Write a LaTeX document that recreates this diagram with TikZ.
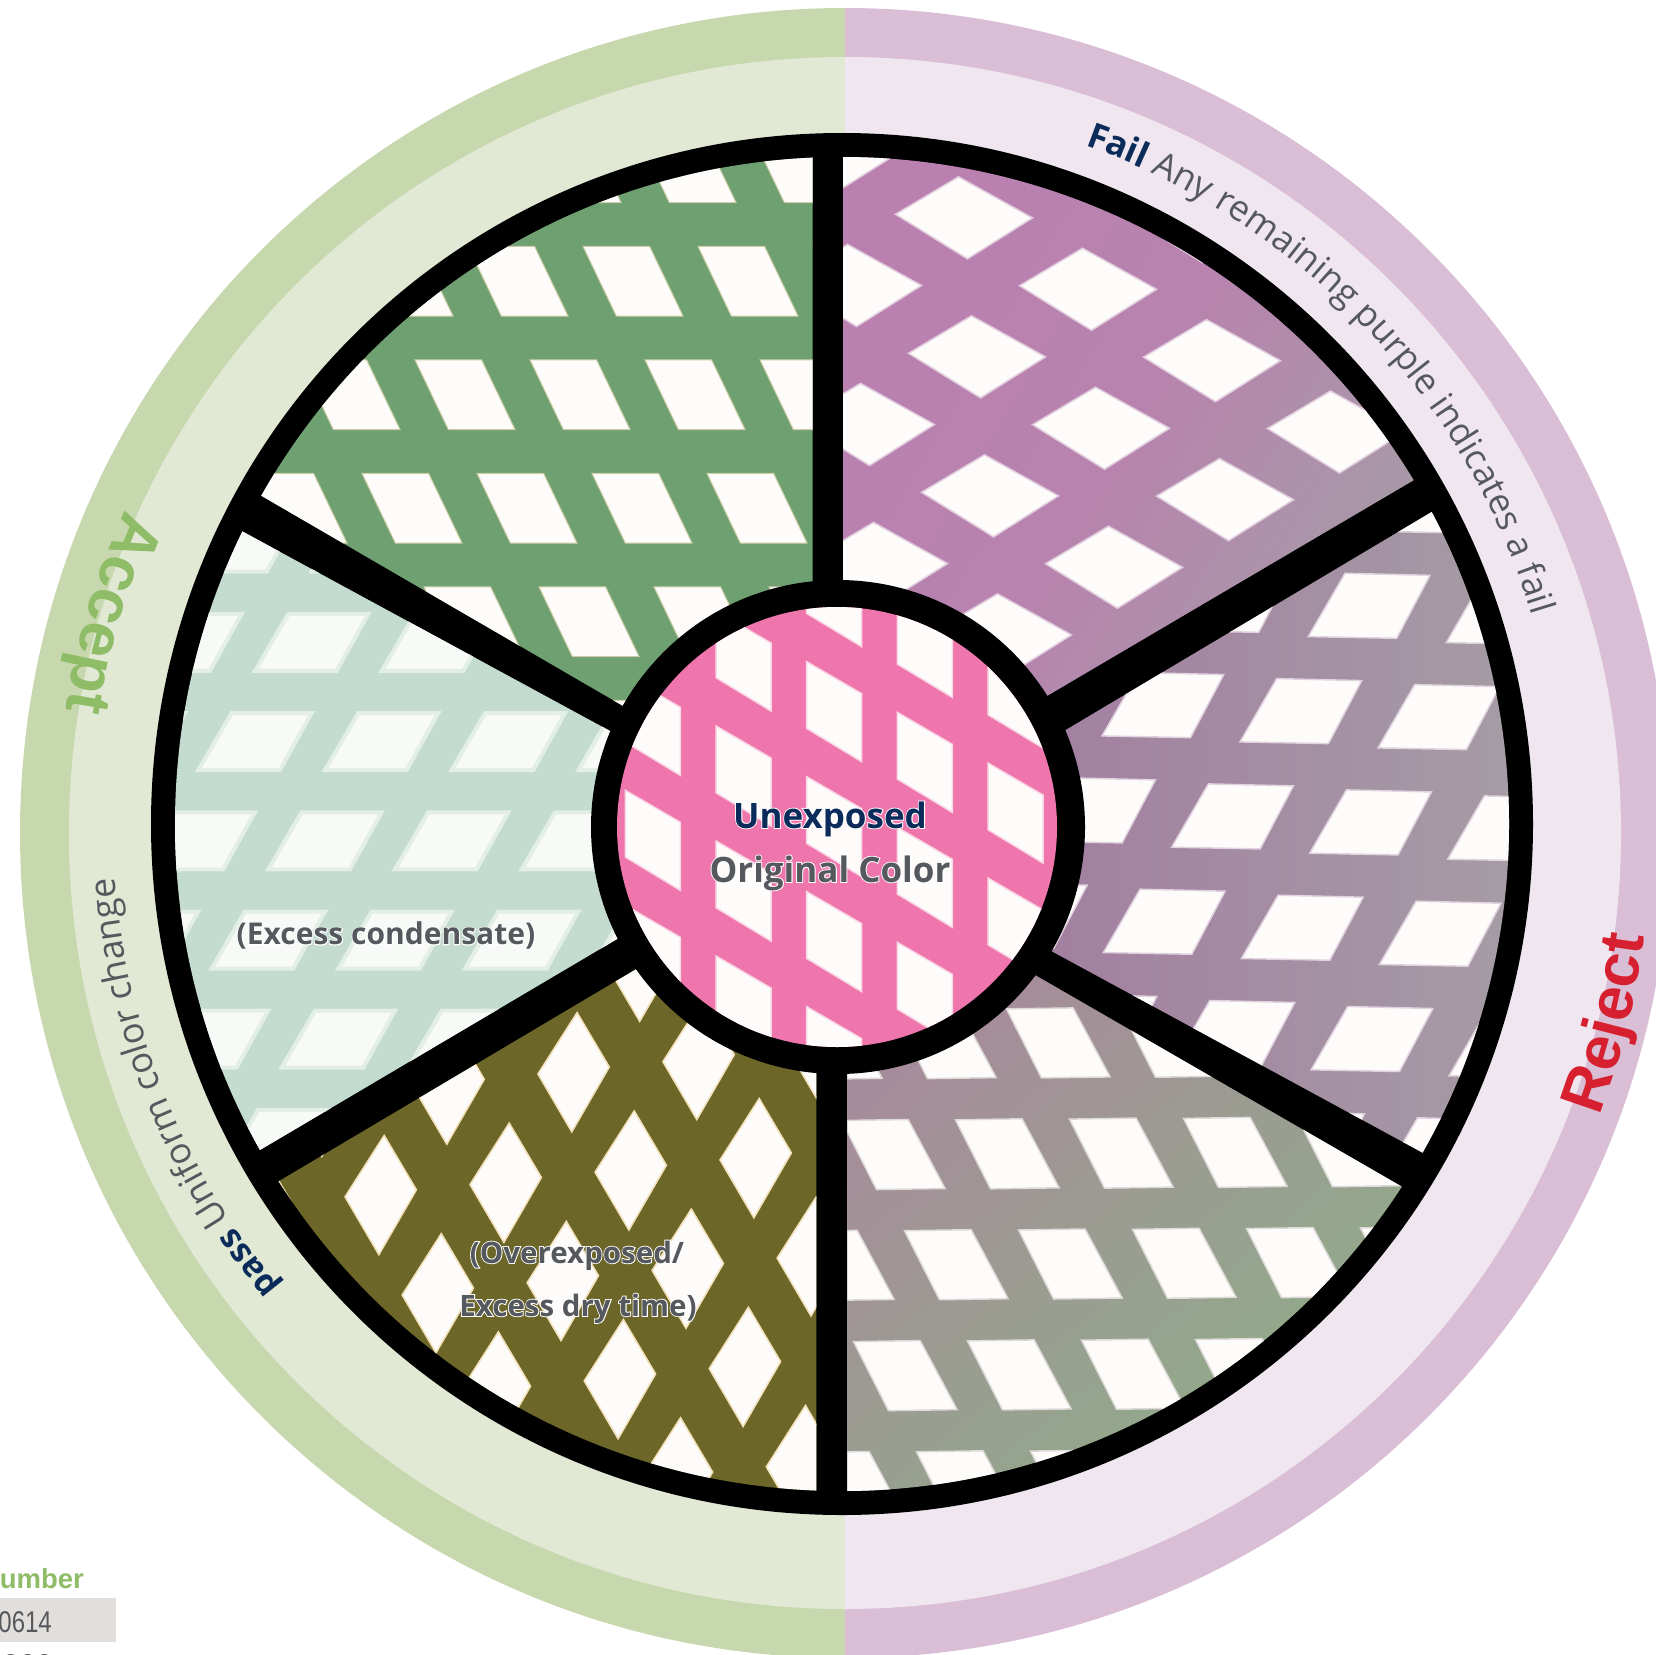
\documentclass[tikz,border=0pt]{standalone}
\usepackage{fontspec}
\setmainfont{Open Sans}
\newfontfamily\robo{Liberation Sans}
\newfontfamily\robonarrow[FakeStretch=0.8]{Liberation Sans}
\usetikzlibrary{decorations.text}
\definecolor{bandG}{HTML}{C8D8AE}
\definecolor{lightG}{HTML}{E1E9D5}
\definecolor{bandP}{HTML}{D9BED6}
\definecolor{lightP}{HTML}{F0E6F0}
\definecolor{navy}{HTML}{0B2C5A}
\definecolor{slate}{HTML}{55595E}
\definecolor{acceptG}{HTML}{8FBC67}
\definecolor{rejectR}{HTML}{D6202F}
\definecolor{paper}{HTML}{FDFCFA}
\newcommand\halo[1]{\leavevmode\rlap{\special{pdf:code q 1 Tr 1 1 1 RG 1.8 w}#1\special{pdf:code Q}}#1}
% ox oy ax ay bx by v1 v2 v3 (y values of a, b, o are screen values; vertices in picture coords)
\newcommand\lattice[9]{%
  \foreach \i in {-7,...,7}{\foreach \j in {-7,...,7}{%
    \fill[cell,shift={({#1+\i*(#3)+\j*(#5)},{-(#2+\i*(#4)+\j*(#6))})}] (0,0) -- (#7) -- (#8) -- (#9) -- cycle;
  }}}
\tikzset{cell/.style={fill=paper}}
\begin{document}
\begin{tikzpicture}[x=1pt,y=1pt]
\useasboundingbox (0,0) rectangle (1656,-1654);
% outer bands
\begin{scope}
  \clip (0,10) rectangle (845,-1700);
  \fill[bandG] (845,-833) circle[radius=825];
  \fill[lightG] (845,-833) circle[radius=776];
\end{scope}
\begin{scope}
  \clip (845,10) rectangle (1700,-1700);
  \fill[bandP] (845,-833) circle[radius=825];
  \fill[lightP] (845,-833) circle[radius=776];
\end{scope}
% black wheel
\fill[black] (842,-824) circle[radius=691];
% green sector
\begin{scope}
  \clip (842,-824) circle[radius=667];
  \clip (812.5,-816) -- (100,-402) -- (100,-100) -- (812.5,-100) -- cycle;
  \fill[fill={rgb,255:red,111;green,160;blue,114}] (100,-100) rectangle (850,-850);
  \tikzset{cell/.style={fill=paper,draw={rgb,255:red,205;green,205;blue,165},line width=1pt}}
  \lattice{583}{246.4}{115}{0}{-53}{113.5}{66.6,0}{100,-69.6}{33.3,-69.6}
\end{scope}
% purple sector
\begin{scope}
  \clip (842,-824) circle[radius=667];
  \clip (843,-816) -- (1600,-370.6) -- (1600,-100) -- (843,-100) -- cycle;
  \definecolor{pa}{RGB}{186,128,176}\definecolor{pb}{RGB}{166,155,166}
  \shade[left color=pa,right color=pb,middle color=pa!88!pb,shading angle=60] (843,-100) rectangle (1430,-720);
  \tikzset{cell/.style={fill=paper,draw={rgb,255:red,225;green,205;blue,222},line width=1.5pt}}
  \lattice{895.5}{214.3}{124}{71.4}{13}{139}{63,37.5}{137,-3.6}{72,-44.6}
\end{scope}
% right sector
\begin{scope}
  \clip (842,-824) circle[radius=667];
  \clip (864.7,-849.7) -- (1600,-411.7) -- (1600,-1249) -- cycle;
  \definecolor{ra}{RGB}{163,126,160}\definecolor{rb}{RGB}{165,158,165}
  \shade[left color=ra,right color=rb] (1030,-480) rectangle (1540,-1180);
  \tikzset{cell/.style={fill=paper,draw={rgb,255:red,225;green,210;blue,224},line width=1.5pt}}
  \lattice{1345}{573.3}{138}{6}{-68.3}{105.3}{85,-2}{51.7,-65}{-36.7,-63.3}
\end{scope}
% lower right sector
\begin{scope}
  \clip (842,-824) circle[radius=667];
  \clip (847.4,-866.7) -- (1600,-1301) -- (1600,-1600) -- (847.4,-1600) -- cycle;
  \definecolor{la}{RGB}{166,140,155}\definecolor{lb}{RGB}{142,175,135}
  \shade[left color=la,right color=lb,shading angle=40] (847,-960) rectangle (1440,-1500);
  \tikzset{cell/.style={fill=paper,draw={rgb,255:red,222;green,218;blue,216},line width=1.5pt}}
  \lattice{1006.5}{1008.9}{114}{-0.7}{-51}{110.9}{66.6,1}{103.6,-68}{35,-69}
\end{scope}
% olive sector
\begin{scope}
  \clip (842,-824) circle[radius=667];
  \clip (816.4,-862.2) -- (100,-1287.3) -- (100,-1600) -- (816.4,-1600) -- cycle;
  \fill[fill={rgb,255:red,108;green,102;blue,40}] (100,-850) rectangle (820,-1600);
  \tikzset{cell/.style={fill=paper,draw={rgb,255:red,243;green,224;blue,185},line width=1.5pt}}
  \lattice{577.1}{1012.6}{125}{-12.3}{57.1}{98.2}{32.2,-54.4}{-5.3,-119.3}{-39.2,-61.4}
\end{scope}
% pale sector
\begin{scope}
  \clip (842,-824) circle[radius=667];
  \clip (797.2,-832.6) -- (50,-427) -- (50,-1274) -- cycle;
  \fill[fill={rgb,255:red,196;green,219;blue,208}] (50,-400) rectangle (800,-1300);
  \tikzset{cell/.style={fill={rgb,255:red,247;green,250;blue,246},draw={rgb,255:red,226;green,238;blue,230},line width=4pt}}
  \lattice{288.3}{613.9}{126.7}{0}{-56.7}{99.2}{80,0}{48.3,-57}{-33.3,-57}
\end{scope}
% centre
\fill[black] (838,-827) circle[radius=247];
\begin{scope}
  \clip (837,-827) circle[radius=220];
  \fill[fill={rgb,255:red,239;green,118;blue,173}] (600,-600) rectangle (1070,-1060);
  \tikzset{cell/.style={fill=paper,draw={rgb,255:red,250;green,215;blue,228},line width=1.5pt}}
  \lattice{806.7}{661.7}{90.7}{50.7}{0}{115}{55,-32}{55,-100}{0,-66.7}
\end{scope}
% centre labels
\node[anchor=base,inner sep=0pt,text=navy] (lblUnexposed) at (830,-828) {\fontsize{35}{40}\selectfont\bfseries\halo{Unexposed}};
\node[anchor=base,inner sep=0pt,text=slate] (lblOriginal) at (830,-882) {\fontsize{35}{40}\selectfont\bfseries\halo{Original Color}};
\node[anchor=base,inner sep=0pt,text=slate] (lblCondensate) at (386,-944.5) {\fontsize{30}{36}\selectfont\bfseries\halo{(Excess condensate)}};
\node[anchor=base,inner sep=0pt,text=slate] (lblOver) at (577,-1263) {\fontsize{29.5}{36}\selectfont\bfseries\halo{(Overexposed/}};
\node[anchor=base,inner sep=0pt,text=slate] (lblDry) at (578,-1316) {\fontsize{29.5}{36}\selectfont\bfseries\halo{Excess dry time)}};
% curved labels
\path[decorate,decoration={text along path,text align={left},
  text={|\fontsize{35}{40}\selectfont\bfseries\color{navy}|Fail |\fontsize{35.5}{40}\selectfont\color{slate}|Any remaining purple indicates a fail}}]
  ([shift={(70.3:721)}]842,-824) arc[start angle=70.3,end angle=5,radius=721];
\path[decorate,decoration={text along path,text align={left},
  text={|\fontsize{34}{40}\selectfont\bfseries\color{navy}|pass |\fontsize{36}{40}\selectfont\color{slate}|Uniform color change}}]
  ([shift={(219.5:729)}]842,-824) arc[start angle=219.5,end angle=170,radius=729];
\path[decorate,decoration={text along path,text align={left},
  text={|\robo\fontsize{63}{70}\selectfont\bfseries\color{acceptG}|Accept}}]
  ([shift={(155.8:789)}]845,-833) arc[start angle=155.8,end angle=185,radius=789];
\path[decorate,decoration={text along path,text align={left},
  text={|\robo\fontsize{62}{70}\selectfont\bfseries\color{rejectR}|Reject}}]
  ([shift={(-20.6:806)}]845,-833) arc[start angle=-20.6,end angle=5,radius=806];
% table fragment
\fill[fill={rgb,255:red,226;green,222;blue,220}] (0,-1598) rectangle (116,-1642);
\node[anchor=base east,inner sep=0pt,text=acceptG,font=\robo\bfseries\fontsize{27.5}{30}\selectfont] (lblNumber) at (84,-1588) {umber};
\node[anchor=base east,inner sep=0pt,text=slate,font=\robonarrow\fontsize{30}{34}\selectfont] (lblRow) at (52,-1632) {0614};
\node[anchor=base east,inner sep=0pt,text=slate,font=\robo\fontsize{30}{34}\selectfont] (lblRowB) at (53,-1675) {000};
\end{tikzpicture}
\end{document}
